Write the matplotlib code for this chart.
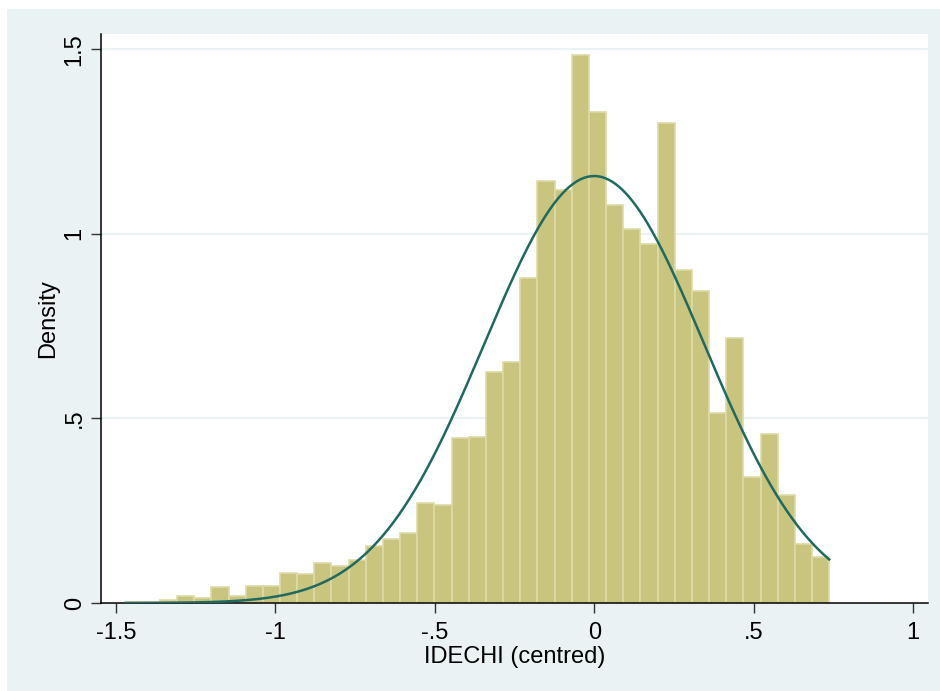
import numpy as np
import matplotlib
matplotlib.use('Agg')
import matplotlib.pyplot as plt
from matplotlib.patches import Rectangle

#----------- Data -----------#
#Histogram of IDECHI (centred): 41 bins from bin_lo to bin_hi, density scale
bin_lo = -1.470
bin_hi = 0.737
density = [0.003, 0.003, 0.008, 0.019, 0.013, 0.043, 0.020, 0.047, 0.045,
           0.081, 0.078, 0.107, 0.100, 0.116, 0.154, 0.172, 0.189, 0.270,
           0.266, 0.448, 0.450, 0.625, 0.654, 0.881, 1.143, 1.118, 1.484,
           1.329, 1.078, 1.012, 0.972, 1.299, 0.902, 0.846, 0.515, 0.719,
           0.340, 0.458, 0.293, 0.161, 0.124]

#Fitted normal overlay (mean and sd of the variable)
norm_mu = 0.0
norm_sd = 0.345

xticks = [-1.5, -1, -0.5, 0, 0.5, 1]
xticklabels = ['-1.5', '-1', '-.5', '0', '.5', '1']
yticks = [0, 0.5, 1, 1.5]
yticklabels = ['0', '.5', '1', '1.5']

#----------- Colours -----------#
bg = '#EAF2F3'
barfill = '#C9C47E'
baredge = '#DEDAA6'
linecol = '#1F6A60'

plt.rcParams['font.family'] = ['Liberation Sans', 'DejaVu Sans']

#-----------     Plot     -----------#
fig = plt.figure(figsize=(9.4, 6.91), dpi=100, facecolor='white')
fig.patches.append(Rectangle((7/940, 0), 1, (691-9)/691, transform=fig.transFigure,
                             facecolor=bg, edgecolor='none', zorder=-10))

ax = fig.add_axes([101/940, (691-603)/691, (928-101)/940, (603-34)/691])
ax.set_facecolor('white')

#Bars
edges = np.linspace(bin_lo, bin_hi, len(density) + 1)
ax.bar(edges[:-1], density, width=np.diff(edges), align='edge',
       color=barfill, edgecolor=baredge, linewidth=1.2, zorder=2)

#Normal density curve
xs = np.linspace(bin_lo, bin_hi, 400)
ys = np.exp(-0.5*((xs - norm_mu)/norm_sd)**2)/(norm_sd*np.sqrt(2*np.pi))
ax.plot(xs, ys, color=linecol, lw=1.8, zorder=3)

#Gridlines
for yv in yticks[1:]:
    ax.axhline(yv, color=bg, lw=1.6, zorder=1)

#Plot settings
ax.set_xlim(-1.547, 1.047)
ax.set_ylim(0, 1.541)
ax.set_xticks(xticks)
ax.set_xticklabels(xticklabels)
ax.set_yticks(yticks)
ax.set_yticklabels(yticklabels, rotation=90, va='center')
ax.tick_params(labelsize=17, length=7, width=1, color='#333333')
ax.tick_params(axis='x', pad=7)
ax.tick_params(axis='y', pad=4)
for s in ['top', 'right']:
    ax.spines[s].set_visible(False)
for s in ['left', 'bottom']:
    ax.spines[s].set_linewidth(1.1)
    ax.spines[s].set_color('black')
ax.set_xlabel('IDECHI (centred)', fontsize=17, labelpad=1)
ax.set_ylabel('Density', fontsize=17, labelpad=3)

plt.savefig('out.png', dpi=100, facecolor='white')
